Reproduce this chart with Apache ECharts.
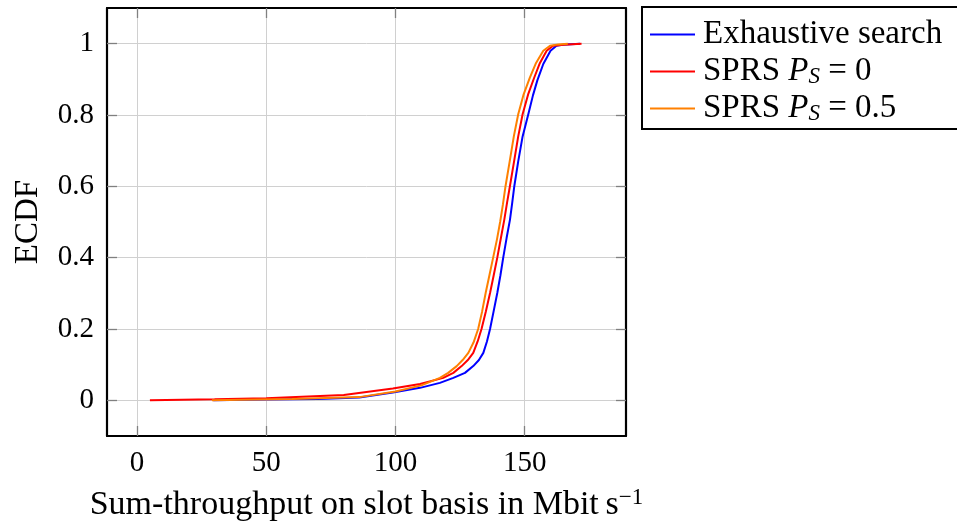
<!DOCTYPE html>
<html>
<head>
<meta charset="utf-8">
<script src="https://cdn.jsdelivr.net/npm/echarts@6/dist/echarts.min.js"></script>
<style>
html,body{margin:0;padding:0;background:#fff;}
#chart{width:957px;height:527px;}
</style>
</head>
<body>
<div id="chart"></div>
<script>
// ---- data ----
const seriesNames = ['Exhaustive search', 'SPRS P_S = 0', 'SPRS P_S = 0.5'];
const xTicks = [0, 50, 100, 150];
const yTicks = [0, 0.2, 0.4, 0.6, 0.8, 1];

const exhaustiveX = [29.5, 50, 70, 86, 99, 109.5, 117.2, 122.4, 126.9, 130.1, 132.3, 134, 135.4, 136.6, 138, 139.4, 140.6, 141.7, 143, 144.3, 145.2, 146, 147.5, 149.2, 151.4, 153.2, 154.9, 157.2, 160, 162.3, 166, 171.4];
const exhaustiveY = [0, 0.002, 0.004, 0.008, 0.022, 0.035, 0.049, 0.063, 0.077, 0.096, 0.113, 0.133, 0.165, 0.2, 0.25, 0.301, 0.35, 0.4, 0.455, 0.506, 0.555, 0.601, 0.67, 0.74, 0.802, 0.855, 0.897, 0.943, 0.98, 0.994, 0.998, 1.0];

const sprs0X = [5, 30, 50, 80, 99, 109.5, 118.5, 122.4, 125.6, 128, 130.1, 131.8, 133.3, 135, 136.6, 138, 139.4, 140.8, 142.1, 143.2, 144.3, 145.9, 147.5, 149.2, 151.3, 153.6, 155.9, 158.5, 161, 165, 172];
const sprs0Y = [0, 0.003, 0.006, 0.015, 0.033, 0.046, 0.063, 0.077, 0.096, 0.113, 0.133, 0.165, 0.2, 0.25, 0.301, 0.35, 0.4, 0.455, 0.506, 0.555, 0.601, 0.67, 0.74, 0.802, 0.857, 0.903, 0.946, 0.98, 0.994, 0.997, 1.0];

const sprs05X = [29, 60, 86, 100, 110, 117.2, 120.4, 123.7, 126, 128.2, 130.2, 132, 133.5, 134.9, 136.4, 137.8, 139.3, 140.5, 141.6, 142.6, 144.2, 145.8, 147.5, 149.6, 152, 154.4, 157.2, 159.8, 163, 166.7];
const sprs05Y = [0, 0.004, 0.009, 0.025, 0.042, 0.063, 0.077, 0.096, 0.113, 0.133, 0.162, 0.2, 0.248, 0.301, 0.352, 0.4, 0.452, 0.5, 0.55, 0.601, 0.67, 0.74, 0.802, 0.858, 0.905, 0.946, 0.98, 0.994, 0.998, 1.0];

const colors = ['#0000ff', '#ff0000', '#ff8000'];

// ---- build ----
const FONT = 'Liberation Serif';
const zip = (xs, ys) => xs.map((x, i) => [x, ys[i]]);
const seriesData = [zip(exhaustiveX, exhaustiveY), zip(sprs0X, sprs0Y), zip(sprs05X, sprs05Y)];

const chart = echarts.init(document.getElementById('chart'), null, {renderer: 'canvas'});

const frameLine = {show: true, onZero: false, lineStyle: {color: '#000', width: 2.2}};
const innerTick = {show: true, inside: true, length: 10, lineStyle: {color: '#808080', width: 1.3}};
const grid = {show: true, lineStyle: {color: '#d0d0d0', width: 1}};

const legendRich = {
  n: {fontFamily: FONT, fontSize: 33, color: '#000', lineHeight: 37},
  i: {fontFamily: FONT, fontSize: 33, fontStyle: 'italic', color: '#000', lineHeight: 37},
  s: {fontFamily: FONT, fontSize: 23, fontStyle: 'italic', color: '#000', lineHeight: 23, verticalAlign: 'bottom', padding: [0, 0, 2, 0]}
};

function legendFormatter(name) {
  if (name.indexOf('P_S') >= 0) {
    const parts = name.split('P_S');
    return '{n|' + parts[0] + '}{i|P}{s|S}{n|' + parts[1] + '}';
  }
  return '{n|' + name + '}';
}

const option = {
  animation: false,
  backgroundColor: '#fff',
  grid: {left: 107, right: 331, top: 8, bottom: 91, containLabel: false},
  legend: {
    orient: 'vertical',
    left: 642, top: 7,
    padding: [9, 60, 2, 8],
    itemGap: 0,
    itemWidth: 45,
    itemHeight: 2,
    borderColor: '#000',
    borderWidth: 2,
    backgroundColor: '#fff',
    data: seriesNames.map((n, k) => ({name: n, icon: 'rect', itemStyle: {color: colors[k]}})),
    formatter: legendFormatter,
    textStyle: {rich: legendRich, lineHeight: 37, padding: [0, 0, 0, 3]}
  },
  xAxis: [{
    type: 'value', position: 'bottom',
    min: -11.6, max: 189.2, interval: 50,
    axisLine: frameLine, splitLine: grid,
    axisLabel: {
      margin: 13, color: '#000', fontFamily: FONT, fontSize: 29,
      customValues: xTicks
    },
    axisTick: Object.assign({}, innerTick, {customValues: xTicks}),
    name: '{n|Sum-throughput on slot basis in Mbit\u2009s}{sup|\u22121}',
    nameLocation: 'middle', nameGap: 50,
    nameTextStyle: {
      rich: {
        n: {fontFamily: FONT, fontSize: 34, color: '#000', lineHeight: 38},
        sup: {fontFamily: FONT, fontSize: 23, color: '#000', lineHeight: 23, verticalAlign: 'top'}
      }
    }
  }, {
    type: 'value', position: 'top',
    min: -11.6, max: 189.2, interval: 50,
    axisLine: frameLine,
    axisTick: Object.assign({}, innerTick, {customValues: xTicks}),
    axisLabel: {show: false}, splitLine: {show: false}
  }],
  yAxis: [{
    type: 'value', position: 'left',
    min: -0.1, max: 1.1,
    axisLine: frameLine,
    axisTick: Object.assign({}, innerTick, {customValues: yTicks}),
    splitLine: grid,
    axisLabel: {
      margin: 13, color: '#000', fontFamily: FONT, fontSize: 29,
      customValues: yTicks,
      formatter: v => String(Math.round(v * 10) / 10)
    },
    name: 'ECDF', nameLocation: 'middle', nameGap: 62, nameRotate: 90,
    nameTextStyle: {fontFamily: FONT, fontSize: 33, color: '#000'}
  }, {
    type: 'value', position: 'right',
    min: -0.1, max: 1.1,
    axisLine: frameLine,
    axisTick: Object.assign({}, innerTick, {customValues: yTicks}),
    axisLabel: {show: false}, splitLine: {show: false}
  }],
  series: seriesNames.map((n, k) => ({
    name: n, type: 'line', data: seriesData[k],
    xAxisIndex: 0, yAxisIndex: 0,
    showSymbol: false, symbol: 'none',
    lineStyle: {color: colors[k], width: 2},
    itemStyle: {color: colors[k]},
    z: 3 + k
  }))
};
chart.setOption(option);
</script>
</body>
</html>
